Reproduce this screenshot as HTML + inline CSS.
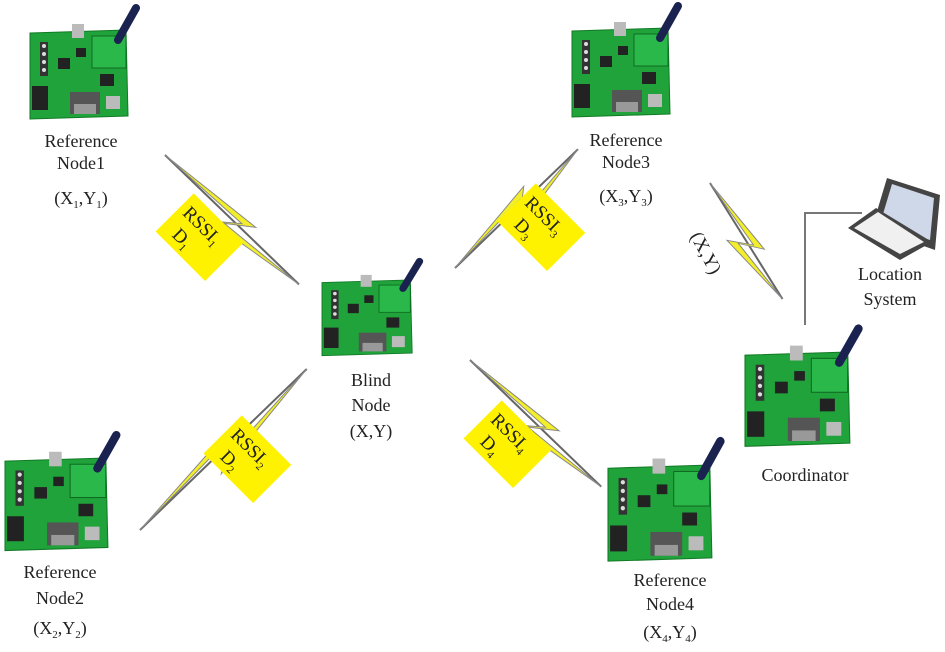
<!DOCTYPE html>
<html><head><meta charset="utf-8"><style>
html,body{margin:0;padding:0;background:#fff;}
svg text{font-family:"Liberation Serif",serif;fill:#222;}
</style></head><body>
<svg width="945" height="647" viewBox="0 0 945 647" xmlns="http://www.w3.org/2000/svg">
<defs>
<g id="board">
  <polygon points="0,3 96,0 98,86 0,89" fill="#1fa33a" stroke="#127a26" stroke-width="1"/>
  <rect x="62" y="6" width="34" height="32" fill="#2bb84a" stroke="#0f6b22"/>
  <rect x="42" y="-6" width="12" height="14" fill="#bbb"/>
  <rect x="10" y="12" width="8" height="34" fill="#333"/>
  <circle cx="14" cy="16" r="2" fill="#ddd"/><circle cx="14" cy="24" r="2" fill="#ddd"/><circle cx="14" cy="32" r="2" fill="#ddd"/><circle cx="14" cy="40" r="2" fill="#ddd"/>
  <rect x="28" y="28" width="12" height="11" fill="#222"/>
  <rect x="70" y="44" width="14" height="12" fill="#222"/>
  <rect x="46" y="18" width="10" height="9" fill="#222"/>
  <rect x="2" y="56" width="16" height="24" fill="#222"/>
  <rect x="40" y="62" width="30" height="22" fill="#555"/>
  <rect x="44" y="74" width="22" height="10" fill="#999"/>
  <rect x="76" y="66" width="14" height="13" fill="#bbb"/>
  <line x1="88" y1="10" x2="106" y2="-22" stroke="#1a2350" stroke-width="8" stroke-linecap="round"/>
</g>
<g id="bolt">
  <line x1="0" y1="0" x2="190" y2="0" stroke="#666" stroke-width="2"/>
  <path d="M0,0 L105,-4 L80,16 L190,0 L92,8 L118,-11 Z" fill="#f2ee2a" stroke="#888" stroke-width="1"/>
</g>
</defs>

<use href="#board" transform="translate(30,30)"/>
<use href="#board" transform="translate(572,28)"/>
<use href="#board" transform="translate(322,280) scale(0.92,0.85)"/>
<use href="#board" transform="translate(5,458) scale(1.05,1.04)"/>
<use href="#board" transform="translate(608,465) scale(1.06,1.08)"/>
<use href="#board" transform="translate(745,352) scale(1.07,1.06)"/>

<use href="#bolt" transform="translate(165,155) rotate(44) scale(0.98,1)"/>
<use href="#bolt" transform="translate(455,268) rotate(-44) scale(0.9,1)"/>
<use href="#bolt" transform="translate(140,530) rotate(-44) scale(1.22,1)"/>
<use href="#bolt" transform="translate(470,360) rotate(44) scale(0.96,1)"/>
<use href="#bolt" transform="translate(710,183) rotate(58) scale(0.72,1)"/>

<g transform="translate(198,240) rotate(45)">
  <rect x="-36" y="-30" width="70" height="54" fill="#fff200"/>
  <text x="-30" y="-7" font-size="19">RSSI<tspan font-size="11" dy="4">1</tspan></text>
  <text x="-22" y="16" font-size="19">D<tspan font-size="11" dy="4">1</tspan></text>
</g>
<g transform="translate(540,230) rotate(45)">
  <rect x="-36" y="-30" width="70" height="54" fill="#fff200"/>
  <text x="-30" y="-7" font-size="19">RSSI<tspan font-size="11" dy="4">3</tspan></text>
  <text x="-22" y="16" font-size="19">D<tspan font-size="11" dy="4">3</tspan></text>
</g>
<g transform="translate(246,462) rotate(45)">
  <rect x="-36" y="-30" width="70" height="54" fill="#fff200"/>
  <text x="-30" y="-7" font-size="19">RSSI<tspan font-size="11" dy="4">2</tspan></text>
  <text x="-22" y="16" font-size="19">D<tspan font-size="11" dy="4">2</tspan></text>
</g>
<g transform="translate(506,447) rotate(45)">
  <rect x="-36" y="-30" width="70" height="54" fill="#fff200"/>
  <text x="-30" y="-7" font-size="19">RSSI<tspan font-size="11" dy="4">4</tspan></text>
  <text x="-22" y="16" font-size="19">D<tspan font-size="11" dy="4">4</tspan></text>
</g>
<text transform="translate(690,236) rotate(62)" font-size="19">(X,Y)</text>

<polyline points="805,325 805,213 862,213" fill="none" stroke="#777" stroke-width="2"/>
<g>
  <polygon points="887,178 940,195 935,250 872,228" fill="#444"/>
  <polygon points="892,184 934,198 930,240 880,224" fill="#cfd8e8"/>
  <polygon points="848,228 876,208 932,242 900,260" fill="#444"/>
  <polygon points="854,228 878,212 924,242 900,254" fill="#f0f0f0"/>
</g>

<g font-size="18" text-anchor="middle">
<text x="81" y="147">Reference</text><text x="81" y="169">Node1</text><text x="81" y="204">(X<tspan font-size="11" dy="4">1</tspan><tspan dy="-4">,Y</tspan><tspan font-size="11" dy="4">1</tspan><tspan dy="-4">)</tspan></text>
<text x="626" y="146">Reference</text><text x="626" y="168">Node3</text><text x="626" y="202">(X<tspan font-size="11" dy="4">3</tspan><tspan dy="-4">,Y</tspan><tspan font-size="11" dy="4">3</tspan><tspan dy="-4">)</tspan></text>
<text x="371" y="386">Blind</text><text x="371" y="411">Node</text><text x="371" y="437">(X,Y)</text>
<text x="60" y="578">Reference</text><text x="60" y="604">Node2</text><text x="60" y="634">(X<tspan font-size="11" dy="4">2</tspan><tspan dy="-4">,Y</tspan><tspan font-size="11" dy="4">2</tspan><tspan dy="-4">)</tspan></text>
<text x="670" y="586">Reference</text><text x="670" y="610">Node4</text><text x="670" y="638">(X<tspan font-size="11" dy="4">4</tspan><tspan dy="-4">,Y</tspan><tspan font-size="11" dy="4">4</tspan><tspan dy="-4">)</tspan></text>
<text x="805" y="481">Coordinator</text>
<text x="890" y="280">Location</text><text x="890" y="305">System</text>
</g>
</svg>
</body></html>
